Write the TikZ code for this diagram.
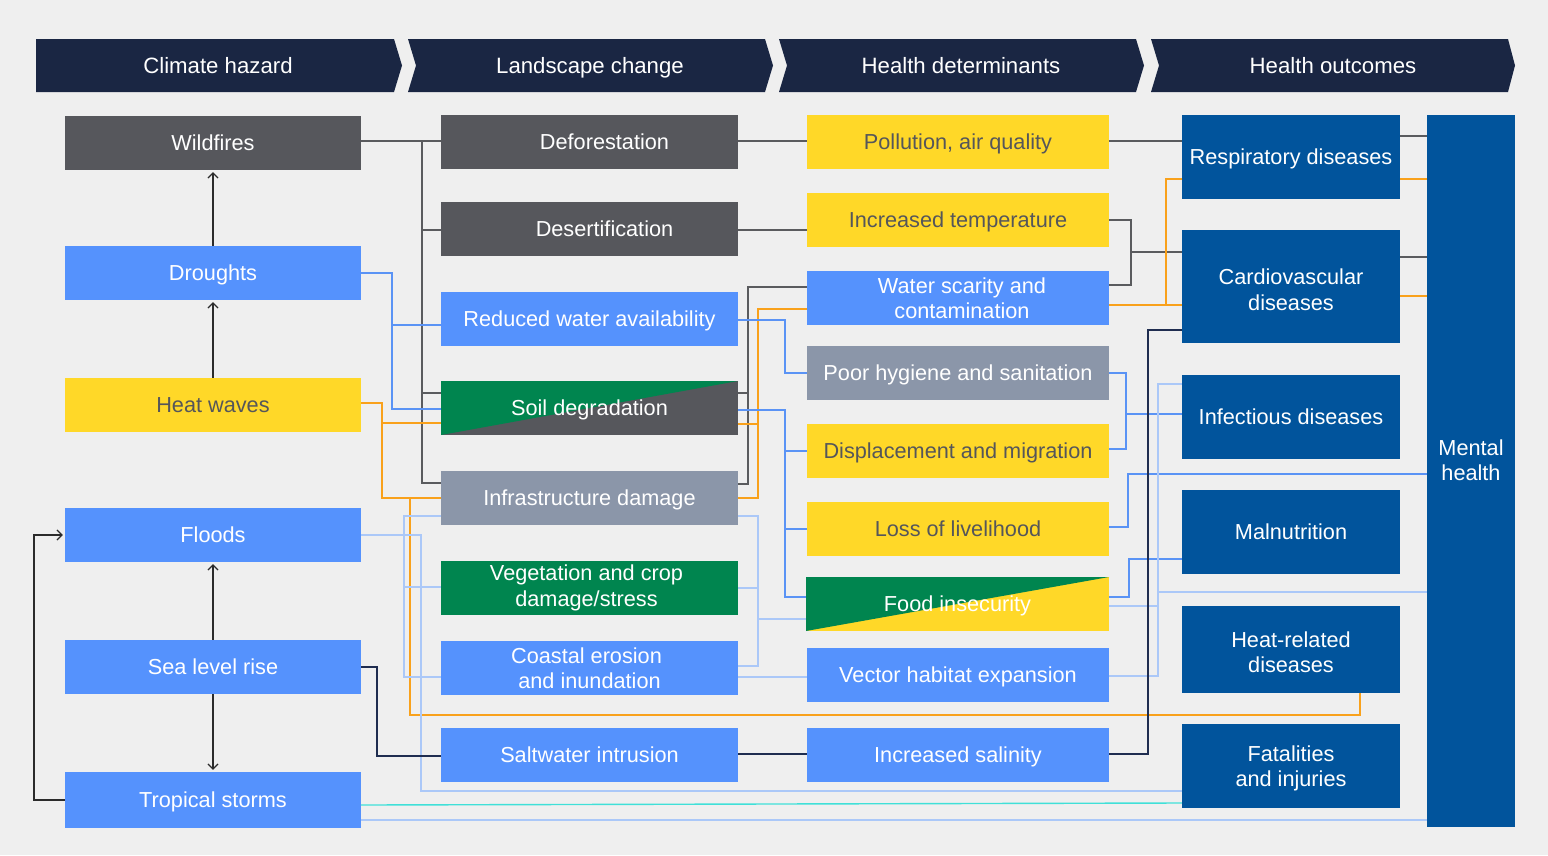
\documentclass[tikz,border=0pt]{standalone}
\usepackage{fontspec}
\setmainfont{Liberation Sans}
\usetikzlibrary{arrows.meta}
\pgfdeclarelayer{back}
\pgfdeclarelayer{bg}
\pgfsetlayers{back,bg,main}
\definecolor{bgc}{HTML}{EFEFEF}
\definecolor{hdr}{HTML}{1A2643}
\definecolor{dgray}{HTML}{56575C}
\definecolor{bbox}{HTML}{5592FD}
\definecolor{ybox}{HTML}{FFD828}
\definecolor{gbox}{HTML}{00854F}
\definecolor{gbbox}{HTML}{8B96A9}
\definecolor{nbox}{HTML}{01549C}
\definecolor{ytext}{HTML}{55565A}
\definecolor{lgray}{HTML}{5A5B5E}
\definecolor{lorange}{HTML}{F9A11B}
\definecolor{lblue}{HTML}{5A93F5}
\definecolor{llblue}{HTML}{ABC8F8}
\definecolor{lcyan}{HTML}{40E0D8}
\definecolor{lnavy}{HTML}{1F2D50}
\definecolor{arrc}{HTML}{2B2B2B}
\begin{document}
\begin{tikzpicture}[x=1pt,y=-1pt,
  box/.style={rectangle, inner sep=0pt, align=center, text=white,
    font=\fontsize{21.7}{25.5}\selectfont},
  one/.style={text height=19.5pt, text depth=4pt},
  colA/.style={box, one, minimum width=296pt, minimum height=54pt},
  colB/.style={box, one, minimum width=297pt, minimum height=54pt},
  colBm/.style={box, minimum width=297pt, minimum height=54pt},
  colC/.style={box, one, minimum width=302pt, minimum height=54pt},
  colCm/.style={box, minimum width=302pt, minimum height=54pt},
  colD/.style={box, minimum width=218pt, fill=nbox},
  dg/.style={fill=dgray},
  bl/.style={fill=bbox},
  yl/.style={fill=ybox, text=ytext},
  gr/.style={fill=gbox},
  gb/.style={fill=gbbox},
  hdrtext/.style={text=white, one, inner sep=0pt, font=\fontsize{22.2}{25}\selectfont},
  conn/.style={line width=1.4pt},
  cg/.style={conn, draw=lgray},
  co/.style={conn, draw=lorange},
  cb/.style={conn, draw=lblue},
  clb/.style={conn, draw=llblue},
  ccy/.style={conn, draw=lcyan},
  cn/.style={conn, draw=lnavy},
  arr/.style={draw=arrc, line width=1.2pt, -{Straight Barb[length=5pt,width=10pt]}}
]
\begin{pgfonlayer}{back}
\fill[bgc] (0,0) rectangle (1548,855);
\end{pgfonlayer}
\useasboundingbox (0,0) rectangle (1548,855);

% header banners
\fill[hdr] (36,39) -- (394,39) -- (402,65.5) -- (394,92) -- (36,92) -- cycle;
\fill[hdr] (408,39) -- (765,39) -- (773,65.5) -- (765,92) -- (408,92) -- (416,65.5) -- cycle;
\fill[hdr] (779,39) -- (1136,39) -- (1144,65.5) -- (1136,92) -- (779,92) -- (787,65.5) -- cycle;
\fill[hdr] (1151,39) -- (1508,39) -- (1515,65.5) -- (1508,92) -- (1151,92) -- (1159,65.5) -- cycle;
\node[hdrtext] (h1) at (218,65.5) {Climate hazard};
\node[hdrtext] (h2) at (590,65.5) {Landscape change};
\node[hdrtext] (h3) at (961,65.5) {Health determinants};
\node[hdrtext] (h4) at (1333,65.5) {Health outcomes};

% column 1
\node[colA, dg] (wild) at (213,143) {Wildfires};
\node[colA, bl] (drought) at (213,273) {Droughts};
\node[colA, yl] (heat) at (213,405) {Heat waves};
\node[colA, bl] (flood) at (213,535) {Floods};
\node[colA, bl] (sea) at (213,667) {Sea level rise};
\node[colA, bl, minimum height=56pt] (storm) at (213,800) {Tropical storms};

% column 2
\node[colB, dg] (defor) at (589.5,142) {\hspace*{30pt}Deforestation};
\node[colB, dg] (desert) at (589.5,229) {\hspace*{30pt}Desertification};
\node[colB, bl] (redw) at (589.5,319) {Reduced water availability};
\node[colB, fill=dgray, path picture={\fill[gbox] (path picture bounding box.north west) -- (path picture bounding box.north east) -- (path picture bounding box.south west) -- cycle;}] (soil) at (589.5,408) {Soil degradation};
\node[colB, gb] (infra) at (589.5,498) {Infrastructure damage};
\node[colBm, gr] (veg) at (589.5,588) {\hspace*{-6pt}Vegetation and crop\\\hspace*{-6pt}damage/stress};
\node[colBm, bl] (coast) at (589.5,668) {\hspace*{-6pt}Coastal erosion\\and inundation};
\node[colB, bl] (salt) at (589.5,755) {Saltwater intrusion};

% column 3
\node[colC, yl] (pollut) at (958,142) {Pollution, air quality};
\node[colC, yl] (inctemp) at (958,220) {Increased temperature};
\node[colCm, bl] (water) at (958,298) {\hspace*{8pt}Water scarity and\\\hspace*{8pt}contamination};
\node[colC, gb] (hyg) at (958,373) {Poor hygiene and sanitation};
\node[colC, yl] (displ) at (958,451) {Displacement and migration};
\node[colC, yl] (liveli) at (958,529) {Loss of livelihood};
\node[box, one, minimum width=303pt, minimum height=54pt, fill=ybox, path picture={\fill[gbox] (path picture bounding box.north west) -- (path picture bounding box.north east) -- (path picture bounding box.south west) -- cycle;}] (food) at (957.5,604) {Food insecurity};
\node[colC, bl] (vector) at (958,675) {Vector habitat expansion};
\node[colC, bl] (salin) at (958,755) {Increased salinity};

% column 4
\node[colD, one, minimum height=84pt] (resp) at (1291,157) {Respiratory diseases};
\node[colD, minimum height=113pt] (cardio) at (1291,286.5) {\rule{0pt}{22pt}Cardiovascular\\diseases};
\node[colD, one, minimum height=84pt] (infect) at (1291,417) {Infectious diseases};
\node[colD, one, minimum height=84pt] (malnut) at (1291,532) {Malnutrition};
\node[colD, minimum height=87pt] (heatrel) at (1291,649.5) {\rule{0pt}{21pt}Heat-related\\diseases};
\node[colD, minimum height=84pt] (fatal) at (1291,766) {\rule{0pt}{20pt}Fatalities\\and injuries};
\node[box, fill=nbox, minimum width=88pt, minimum height=712pt] (mental) at (1471,471) {Mental\\health\\[-4pt]\mbox{}};

% junction coordinates
\coordinate (jg1) at (422,141);
\coordinate (jg2) at (748,393);
\coordinate (jg3) at (1131,252);
\coordinate (jo1) at (382,423);
\coordinate (jo2) at (410,498);
\coordinate (jo3) at (758,424);
\coordinate (jo4) at (1166,305);
\coordinate (jb1) at (392,325);
\coordinate (jb2) at (785,451);
\coordinate (jb3) at (785,529);
\coordinate (jb4) at (1126,414);
\coordinate (jl2) at (404,587);
\coordinate (jl3) at (758,588);
\coordinate (jl4) at (758,619);
\coordinate (jl5) at (1158,606);
\coordinate (jl6) at (1158,592);

\begin{pgfonlayer}{bg}
% gray
\draw[cg] (wild.east |- 0,141) -- (defor.west |- 0,141);
\draw[cg] (jg1) |- (desert.west |- 0,230);
\draw[cg] (jg1) |- (soil.west |- 0,393);
\draw[cg] (jg1) |- (infra.west |- 0,483);
\draw[cg] (defor.east |- 0,141) -- (pollut.west |- 0,141);
\draw[cg] (desert.east |- 0,230) -- (inctemp.west |- 0,230);
\draw[cg] (soil.east |- 0,393) -| (748,287) -- (water.west |- 0,287);
\draw[cg] (infra.east |- 0,484) -| (jg2);
\draw[cg] (pollut.east |- 0,141) -- (resp.west |- 0,141);
\draw[cg] (inctemp.east |- 0,220) -| (1131,285) -- (water.east |- 0,285);
\draw[cg] (jg3) -- (cardio.west |- 0,252);
\draw[cg] (resp.east |- 0,136) -- (mental.west |- 0,136);
\draw[cg] (cardio.east |- 0,257) -- (mental.west |- 0,257);
% orange
\draw[co] (heat.east |- 0,403) -| (382,498) -- (infra.west |- 0,498);
\draw[co] (jo1) -- (soil.west |- 0,423);
\draw[co] (jo2) -- (410,715) -| (heatrel.south -| 1360,0);
\draw[co] (soil.east |- 0,424) -| (758,309) -- (water.west |- 0,309);
\draw[co] (infra.east |- 0,498) -| (jo3);
\draw[co] (water.east |- 0,305) -- (cardio.west |- 0,305);
\draw[co] (jo4) |- (resp.west |- 0,179);
\draw[co] (resp.east |- 0,179) -- (mental.west |- 0,179);
\draw[co] (cardio.east |- 0,296) -- (mental.west |- 0,296);
% blue
\draw[cb] (drought.east |- 0,273) -| (392,409) -- (soil.west |- 0,409);
\draw[cb] (jb1) -- (redw.west |- 0,325);
\draw[cb] (redw.east |- 0,320) -| (785,373) -- (hyg.west |- 0,373);
\draw[cb] (soil.east |- 0,410) -| (785,597) -- (food.west |- 0,597);
\draw[cb] (jb2) -- (displ.west |- 0,451);
\draw[cb] (jb3) -- (liveli.west |- 0,529);
\draw[cb] (hyg.east |- 0,373) -| (1126,449) -- (displ.east |- 0,449);
\draw[cb] (jb4) -- (infect.west |- 0,414);
\draw[cb] (liveli.east |- 0,527) -| (1128,474) -- (mental.west |- 0,474);
\draw[cb] (food.east |- 0,597) -| (1129,559) -- (malnut.west |- 0,559);
% light blue
\draw[clb] (flood.east |- 0,535) -- (421,535) -- (421,791) -- (fatal.west |- 0,791);
\draw[clb] (infra.west |- 0,516) -| (404,677) -- (coast.west |- 0,677);
\draw[clb] (jl2) -- (veg.west |- 0,587);
\draw[clb] (coast.east |- 0,677) -- (vector.west |- 0,677);
\draw[clb] (infra.east |- 0,516) -| (758,666) -- (coast.east |- 0,666);
\draw[clb] (veg.east |- 0,588) -- (jl3);
\draw[clb] (jl4) -- (food.west |- 0,619);
\draw[clb] (vector.east |- 0,676) -| (1158,384) -- (infect.west |- 0,384);
\draw[clb] (food.east |- 0,606) -- (jl5);
\draw[clb] (jl6) -- (mental.west |- 0,592);
\draw[clb] (storm.east |- 0,820) -- (mental.west |- 0,820);
% cyan
\draw[ccy] (storm.east |- 0,805) -- (fatal.west |- 0,803);
% navy
\draw[cn] (sea.east |- 0,667) -| (377,756) -- (salt.west |- 0,756);
\draw[cn] (salt.east |- 0,754) -- (salin.west |- 0,754);
\draw[cn] (salin.east |- 0,754) -| (1148,330) -- (cardio.west |- 0,330);
\end{pgfonlayer}

% hazard arrows
\draw[arr] (drought.north) -- ([yshift=-2pt]wild.south);
\draw[arr] (heat.north) -- ([yshift=-2pt]drought.south);
\draw[arr] (sea.north) -- ([yshift=-2pt]flood.south);
\draw[arr] (sea.south) -- ([yshift=2pt]storm.north);
\draw[arr] (storm.west) -- (34,800) |- ([xshift=-2pt]flood.west);
\end{tikzpicture}
\end{document}
